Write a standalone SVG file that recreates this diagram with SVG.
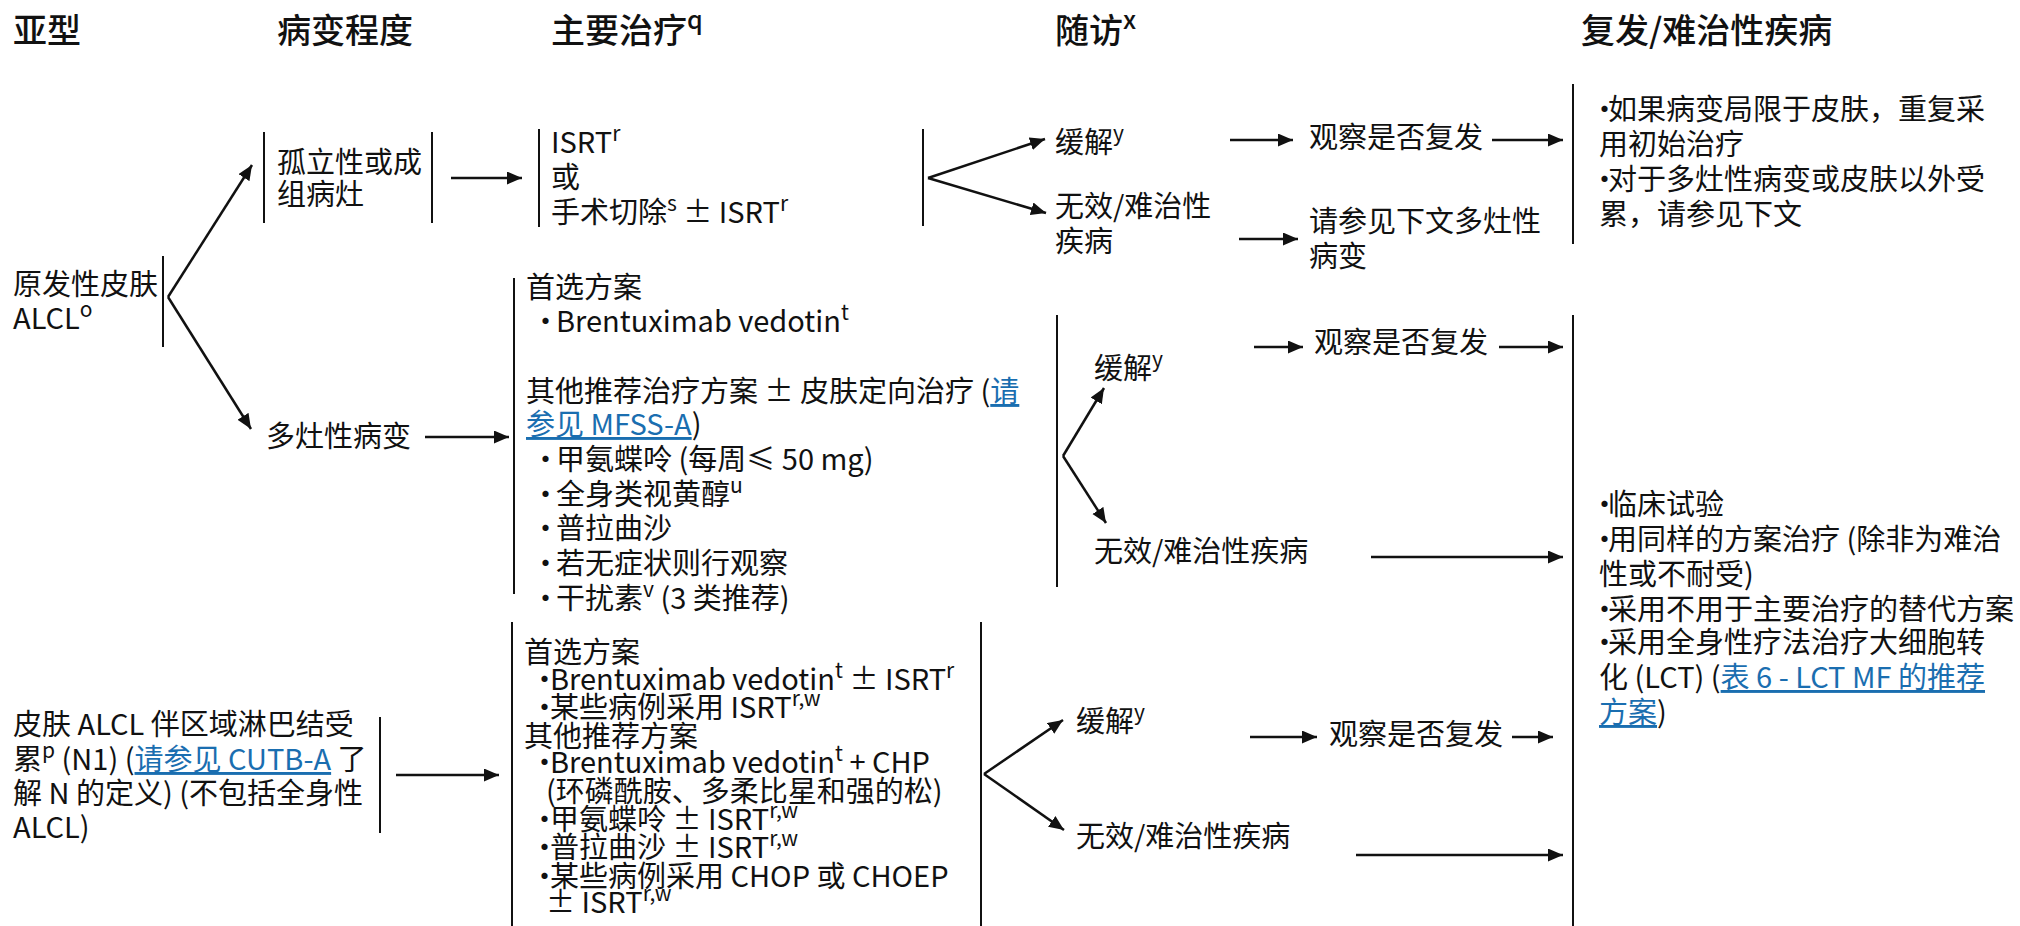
<svg xmlns="http://www.w3.org/2000/svg" width="2020" height="926" viewBox="0 0 2020 926">
<style>
text{font-family:"Noto Sans CJK SC","Noto Sans",sans-serif;font-size:29px;fill:#111}
.h{font-size:34px;font-weight:500}
.sup{font-size:21px}
.hsup{font-size:25px}
.lk{fill:#1a6eb0;text-decoration:underline}
.v{stroke:#111;stroke-width:2;fill:none}
.a{stroke:#111;stroke-width:2.5;fill:none;marker-end:url(#ah)}
</style>
<defs>
<marker id="ah" markerUnits="userSpaceOnUse" markerWidth="16" markerHeight="14" refX="15" refY="6.5" orient="auto">
<path d="M0,0 L15,6.5 L0,13 z" fill="#111"/>
</marker>
</defs>
<rect width="2020" height="926" fill="#fff"/>

<g id="headers">
<text class="h" x="13" y="43">亚型</text>
<text class="h" x="277" y="43">病变程度</text>
<text class="h" x="551" y="43">主要治疗<tspan class="hsup" dy="-14">q</tspan></text>
<text class="h" x="1055" y="43">随访<tspan class="hsup" dy="-14">x</tspan></text>
<text class="h" x="1581" y="43">复发/难治性疾病</text>
</g>

<g id="subtype-primary">
<text x="13" y="295">原发性皮肤</text>
<text x="13" y="329">ALCL<tspan class="sup" dy="-12">o</tspan></text>
<line class="v" x1="163" y1="256" x2="163" y2="347"/>
</g>

<g id="subtype-nodal">
<text x="13" y="735">皮肤 ALCL 伴区域淋巴结受</text>
<text x="13" y="770">累<tspan class="sup" dy="-12">p</tspan><tspan dy="12"> (N1) (</tspan><tspan class="lk">请参见 CUTB-A</tspan> 了</text>
<text x="13" y="804">解 N 的定义) (不包括全身性</text>
<text x="13" y="838">ALCL)</text>
<line class="v" x1="380" y1="717" x2="380" y2="833"/>
</g>

<g id="extent-solitary">
<line class="v" x1="264" y1="132" x2="264" y2="223"/>
<text x="277" y="173">孤立性或成</text>
<text x="277" y="205">组病灶</text>
<line class="v" x1="432" y1="132" x2="432" y2="223"/>
</g>

<g id="extent-multifocal">
<text x="266" y="447">多灶性病变</text>
</g>

<g id="tx-solitary">
<line class="v" x1="539" y1="129" x2="539" y2="227"/>
<text x="551" y="153">ISRT<tspan class="sup" dy="-12">r</tspan></text>
<text x="551" y="188">或</text>
<text x="551" y="223">手术切除<tspan class="sup" dy="-12">s</tspan><tspan dy="12"> ± ISRT</tspan><tspan class="sup" dy="-12">r</tspan></text>
<line class="v" x1="923" y1="129" x2="923" y2="226"/>
</g>

<g id="tx-multifocal">
<line class="v" x1="514" y1="278" x2="514" y2="594"/>
<text x="526" y="298">首选方案</text>
<text y="332"><tspan x="531">•</tspan><tspan x="556">Brentuximab vedotin</tspan><tspan class="sup" dy="-12">t</tspan></text>
<text x="526" y="402">其他推荐治疗方案 ± 皮肤定向治疗 (<tspan class="lk">请</tspan></text>
<text x="526" y="435"><tspan class="lk">参见 MFSS-A</tspan>)</text>
<text y="470"><tspan x="531">•</tspan><tspan x="556">甲氨蝶呤 (每周≤ 50 mg)</tspan></text>
<text y="505"><tspan x="531">•</tspan><tspan x="556">全身类视黄醇</tspan><tspan class="sup" dy="-12">u</tspan></text>
<text y="539"><tspan x="531">•</tspan><tspan x="556">普拉曲沙</tspan></text>
<text y="574"><tspan x="531">•</tspan><tspan x="556">若无症状则行观察</tspan></text>
<text y="609"><tspan x="531">•</tspan><tspan x="556">干扰素</tspan><tspan class="sup" dy="-12">v</tspan><tspan dy="12"> (3 类推荐)</tspan></text>
</g>

<g id="tx-nodal">
<line class="v" x1="512" y1="622" x2="512" y2="926"/>
<text x="524" y="663">首选方案</text>
<text y="690"><tspan x="530">•</tspan><tspan x="550">Brentuximab vedotin</tspan><tspan class="sup" dy="-12">t</tspan><tspan dy="12"> ± ISRT</tspan><tspan class="sup" dy="-12">r</tspan></text>
<text y="718"><tspan x="530">•</tspan><tspan x="550">某些病例采用 ISRT</tspan><tspan class="sup" dy="-12">r,w</tspan></text>
<text x="524" y="747">其他推荐方案</text>
<text y="773"><tspan x="530">•</tspan><tspan x="550">Brentuximab vedotin</tspan><tspan class="sup" dy="-12">t</tspan><tspan dy="12"> + CHP</tspan></text>
<text x="546" y="802">(环磷酰胺、多柔比星和强的松)</text>
<text y="830"><tspan x="530">•</tspan><tspan x="550">甲氨蝶呤 ± ISRT</tspan><tspan class="sup" dy="-12">r,w</tspan></text>
<text y="858"><tspan x="530">•</tspan><tspan x="550">普拉曲沙 ± ISRT</tspan><tspan class="sup" dy="-12">r,w</tspan></text>
<text y="887"><tspan x="530">•</tspan><tspan x="550">某些病例采用 CHOP 或 CHOEP</tspan></text>
<text x="546" y="913">± ISRT<tspan class="sup" dy="-12">r,w</tspan></text>
<line class="v" x1="981" y1="622" x2="981" y2="926"/>
</g>

<g id="fu-solitary">
<text x="1055" y="153">缓解<tspan class="sup" dy="-12">y</tspan></text>
<text x="1055" y="217">无效/难治性</text>
<text x="1055" y="252">疾病</text>
<text x="1309" y="148">观察是否复发</text>
<text x="1309" y="232">请参见下文多灶性</text>
<text x="1309" y="267">病变</text>
</g>

<g id="fu-multifocal">
<line class="v" x1="1057" y1="315" x2="1057" y2="587"/>
<text x="1094" y="379">缓解<tspan class="sup" dy="-12">y</tspan></text>
<text x="1314" y="353">观察是否复发</text>
<text x="1094" y="562">无效/难治性疾病</text>
</g>

<g id="fu-nodal">
<text x="1076" y="732">缓解<tspan class="sup" dy="-12">y</tspan></text>
<text x="1329" y="745">观察是否复发</text>
<text x="1076" y="847">无效/难治性疾病</text>
</g>

<g id="relapse-solitary">
<line class="v" x1="1573" y1="84" x2="1573" y2="244"/>
<text y="120"><tspan x="1590">•</tspan><tspan x="1608">如果病变局限于皮肤，重复采</tspan></text>
<text x="1599" y="155">用初始治疗</text>
<text y="190"><tspan x="1590">•</tspan><tspan x="1608">对于多灶性病变或皮肤以外受</tspan></text>
<text x="1599" y="225">累，请参见下文</text>
</g>

<g id="relapse-other">
<line class="v" x1="1573" y1="315" x2="1573" y2="926"/>
<text y="515"><tspan x="1590">•</tspan><tspan x="1608">临床试验</tspan></text>
<text y="550"><tspan x="1590">•</tspan><tspan x="1608">用同样的方案治疗 (除非为难治</tspan></text>
<text x="1599" y="585">性或不耐受)</text>
<text y="620"><tspan x="1590">•</tspan><tspan x="1608">采用不用于主要治疗的替代方案</tspan></text>
<text y="653"><tspan x="1590">•</tspan><tspan x="1608">采用全身性疗法治疗大细胞转</tspan></text>
<text x="1599" y="688">化 (LCT) (<tspan class="lk">表 6 - LCT MF 的推荐</tspan></text>
<text x="1599" y="723"><tspan class="lk">方案</tspan>)</text>
</g>

<g id="connectors">
<line class="a" x1="168" y1="297" x2="252" y2="165"/>
<line class="a" x1="168" y1="297" x2="251" y2="429"/>
<line class="a" x1="451" y1="178" x2="522" y2="178"/>
<line class="a" x1="425" y1="437" x2="509" y2="437"/>
<line class="a" x1="396" y1="775" x2="499" y2="775"/>
<line class="a" x1="928" y1="178" x2="1045" y2="139"/>
<line class="a" x1="928" y1="178" x2="1046" y2="213"/>
<line class="a" x1="1230" y1="140" x2="1293" y2="140"/>
<line class="a" x1="1492" y1="140" x2="1563" y2="140"/>
<line class="a" x1="1239" y1="239" x2="1298" y2="239"/>
<line class="a" x1="1063" y1="456" x2="1104" y2="388"/>
<line class="a" x1="1063" y1="456" x2="1106" y2="523"/>
<line class="a" x1="1254" y1="347" x2="1303" y2="347"/>
<line class="a" x1="1499" y1="347" x2="1563" y2="347"/>
<line class="a" x1="1371" y1="557" x2="1563" y2="557"/>
<line class="a" x1="984" y1="774" x2="1063" y2="720"/>
<line class="a" x1="984" y1="774" x2="1064" y2="830"/>
<line class="a" x1="1250" y1="737" x2="1317" y2="737"/>
<line class="a" x1="1512" y1="737" x2="1553" y2="737"/>
<line class="a" x1="1356" y1="855" x2="1563" y2="855"/>
</g>
</svg>
